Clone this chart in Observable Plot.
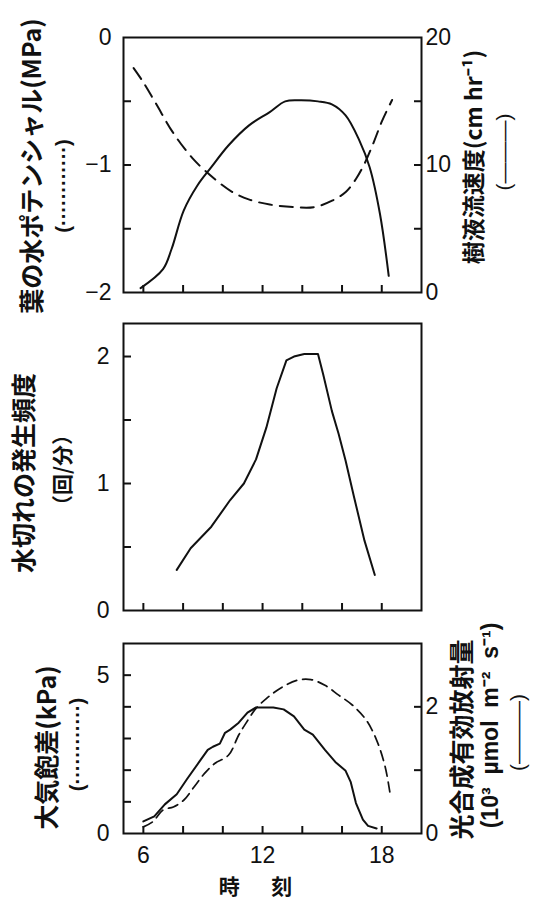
<!DOCTYPE html>
<html><head><meta charset="utf-8">
<script src="https://cdn.jsdelivr.net/npm/d3@7"></script>
<script src="https://cdn.jsdelivr.net/npm/@observablehq/plot@0.6"></script>
<style>
html,body{margin:0;padding:0;background:#fff;}
#chart{position:relative;width:540px;height:903px;overflow:hidden;background:#fff;}
#chart svg{position:absolute;left:0;overflow:visible;}
</style></head><body><div id="chart"></div>
<script>
// ---- shared x axis (time of day) ----
const hourTicks = [6, 8, 10, 12, 14, 16, 18];
const hourLabels = [6, 12, 18];

// ---- panel 1: leaf water potential (MPa, dashed) & sap flow (cm hr-1, solid) ----
const psiTicks = [-1.5, -1, -0.5];
const psiLabels = [-2, -1, 0];
const sapTicks = [5, 10, 15];
const sapLabels = [0, 10, 20];
const psiHour = [5.51, 5.95, 6.64, 7.51, 8.55, 9.59, 10.46, 11.3, 12.36, 13.58, 14.6, 15.5, 16.2, 16.7, 17.13, 17.6, 18.0, 18.52];
const leafPsi = [-0.24, -0.34, -0.52, -0.75, -0.96, -1.11, -1.21, -1.27, -1.31, -1.33, -1.33, -1.28, -1.21, -1.11, -0.99, -0.82, -0.66, -0.49];
const sapHour = [5.86, 6.99, 7.42, 8.03, 8.72, 9.42, 10.28, 11.32, 12.36, 13.14, 13.92, 14.79, 15.49, 16.18, 16.87, 17.39, 17.91, 18.35];
const sapFlow = [0.34, 1.83, 3.41, 6.42, 8.39, 9.83, 11.53, 13.11, 14.15, 14.99, 15.07, 14.99, 14.76, 13.89, 11.93, 9.83, 6.16, 1.31];

// ---- panel 2: cavitation frequency (counts/min) ----
const cavTicks = [0.5, 1, 1.5, 2];
const cavLabels = [0, 1, 2];
const cavHour = [7.68, 8.38, 9.42, 10.37, 11.06, 11.67, 12.19, 12.71, 13.2, 13.58, 14.1, 14.79, 15.05, 15.49, 15.83, 16.18, 16.61, 17.13, 17.65];
const cavFreq = [0.32, 0.49, 0.66, 0.87, 1.0, 1.19, 1.44, 1.75, 1.97, 2.0, 2.02, 2.02, 1.86, 1.57, 1.39, 1.18, 0.89, 0.55, 0.28];

// ---- panel 3: VPD (kPa, dashed) & PAR (10^3 umol m-2 s-1, solid) ----
const vpdTicks = [1, 2, 3, 4, 5];
const vpdLabels = [0, 5];
const parTicks = [1, 2];
const parLabels = [0, 2];
const vpdHour = [6.0, 6.47, 6.99, 7.51, 8.03, 8.55, 9.07, 9.59, 10.28, 10.8, 11.15, 11.67, 12.19, 12.88, 13.75, 14.44, 15.14, 15.83, 16.53, 17.22, 17.74, 18.17, 18.43];
const vpd = [0.21, 0.37, 0.74, 0.84, 1.05, 1.47, 1.89, 2.21, 2.47, 3.11, 3.47, 3.95, 4.26, 4.58, 4.84, 4.86, 4.68, 4.37, 4.05, 3.58, 2.95, 2.11, 1.21];
const parHour = [6.0, 6.55, 7.08, 7.68, 8.2, 8.81, 9.24, 9.5, 9.85, 10.11, 10.37, 10.8, 11.24, 11.67, 12.54, 13.06, 13.58, 14.1, 14.53, 15.14, 15.66, 16.18, 16.44, 16.7, 17.05, 17.31, 17.74];
const par = [0.19, 0.27, 0.46, 0.62, 0.86, 1.13, 1.32, 1.37, 1.42, 1.59, 1.64, 1.75, 1.91, 1.99, 1.99, 1.96, 1.85, 1.64, 1.56, 1.32, 1.13, 0.99, 0.81, 0.48, 0.22, 0.12, 0.08];

// ---- text ----
const t1Left = "葉の水ポテンシャル(MPa)";
const t1Right = "樹液流速度(cm hr⁻¹)";
const t2Left = "水切れの発生頻度";
const t2Unit = "（回/分）";
const t3Left = "大気飽差(kPa)";
const t3Right1 = "光合成有効放射量";
const t3Right2 = "(10³  µmol  m⁻²  s⁻¹)";
const xTitle = "時\u3000\u2002刻";
const dottedKey = "(············)";
const solidKey = "(———)";

const NUM = "'Liberation Sans', Arial, sans-serif";
const JP = "'Noto Sans CJK JP', 'Noto Sans CJK SC', sans-serif";
const INK = "#111";
const fmt = d3.format("d");

const zip = (xs, ys) => xs.map((h, i) => ({h, v: ys[i]}));
const psiData = zip(psiHour, leafPsi);
const sapData = zip(sapHour, sapFlow);
const cavData = zip(cavHour, cavFreq);
const vpdData = zip(vpdHour, vpd);
const parData = zip(parHour, par);

const sapToPsi = s => -2 + s / 10;   // right axis (0..20) onto left axis (-2..0)
const parToVpd = p => p * 2;         // right axis (0..3) onto left axis (0..6)

const W = 540, L = 123, R = 119;
const chart = document.getElementById("chart");
const baseStyle = {fontFamily: NUM, fontSize: "23px", background: "none", overflow: "visible", color: INK};

function title(text, anchor, dx, dy, size = 24, weight = "bold", family = JP) {
  return Plot.text([text], {text: d => d, frameAnchor: anchor, textAnchor: "middle", lineAnchor: "middle",
    dx, dy, rotate: -90, fontSize: size, fontWeight: weight, fontFamily: family, fill: INK});
}
function xTicksMarks(withLabels) {
  const m = [Plot.axisX({ticks: hourTicks, tickSize: -7, tickFormat: () => "", strokeWidth: 2, label: null})];
  if (withLabels) m.push(Plot.axisX({ticks: hourLabels, tickSize: 0, tickPadding: 13, label: null, fontSize: 23, tickFormat: fmt}));
  return m;
}
function mount(svg, top) { svg.style.top = top + "px"; chart.appendChild(svg); }

// Panel 1
mount(Plot.plot({
  width: W, height: 305, marginLeft: L, marginRight: R, marginTop: 37, marginBottom: 13,
  style: baseStyle,
  x: {domain: [5, 20], label: null},
  y: {domain: [-2, 0], label: null},
  marks: [
    Plot.frame({stroke: INK, strokeWidth: 2}),
    ...xTicksMarks(false),
    Plot.axisY({anchor: "left", ticks: psiTicks, tickSize: -8, tickFormat: () => "", strokeWidth: 2, label: null}),
    Plot.axisY({anchor: "left", ticks: psiLabels, tickSize: 0, tickPadding: 12, label: null, tickFormat: fmt}),
    Plot.axisY({anchor: "right", ticks: sapTicks.map(sapToPsi), tickSize: -8, tickFormat: () => "", strokeWidth: 2, label: null}),
    Plot.axisY({anchor: "right", ticks: sapLabels.map(sapToPsi), tickSize: 0, tickPadding: 4, label: null,
      tickFormat: (d, i) => String(sapLabels[i])}),
    Plot.line(psiData, {x: "h", y: "v", curve: "catmull-rom", stroke: INK, strokeWidth: 2, strokeDasharray: "13,8"}),
    Plot.line(sapData, {x: "h", y: d => sapToPsi(d.v), curve: "catmull-rom", stroke: INK, strokeWidth: 2}),
    title(t1Left, "left", -91, 1, 25),
    title(dottedKey, "left", -60, 21, 20, "bold", NUM),
    title(t1Right, "right", 53, -8, 23),
    title(solidKey, "right", 83, -13, 21, "normal", NUM)
  ]
}), 0);

// Panel 2
mount(Plot.plot({
  width: W, height: 320, marginLeft: L, marginRight: R, marginTop: 18, marginBottom: 15,
  style: baseStyle,
  x: {domain: [5, 20], label: null},
  y: {domain: [0, 2.26], label: null},
  marks: [
    Plot.frame({stroke: INK, strokeWidth: 2}),
    ...xTicksMarks(false),
    Plot.axisY({anchor: "left", ticks: cavTicks, tickSize: -8, tickFormat: () => "", strokeWidth: 2, label: null}),
    Plot.axisY({anchor: "left", ticks: cavLabels, tickSize: 0, tickPadding: 14, label: null, tickFormat: fmt}),
    Plot.line(cavData, {x: "h", y: "v", stroke: INK, strokeWidth: 2}),
    title(t2Left, "left", -99, 6, 25),
    title(t2Unit, "left", -60, 3, 21)
  ]
}), 305);

// Panel 3
mount(Plot.plot({
  width: W, height: 278, marginLeft: L, marginRight: R, marginTop: 18, marginBottom: 70,
  style: baseStyle,
  x: {domain: [5, 20], label: null},
  y: {domain: [0, 6], label: null},
  marks: [
    Plot.frame({stroke: INK, strokeWidth: 2}),
    ...xTicksMarks(true),
    Plot.axisY({anchor: "left", ticks: vpdTicks, tickSize: -8, tickFormat: () => "", strokeWidth: 2, label: null}),
    Plot.axisY({anchor: "left", ticks: vpdLabels, tickSize: 0, tickPadding: 14, label: null, tickFormat: fmt}),
    Plot.axisY({anchor: "right", ticks: parTicks.map(parToVpd), tickSize: -8, tickFormat: () => "", strokeWidth: 2, label: null}),
    Plot.axisY({anchor: "right", ticks: parLabels.map(parToVpd), tickSize: 0, tickPadding: 4, label: null,
      tickFormat: (d, i) => String(parLabels[i])}),
    Plot.line(vpdData, {x: "h", y: "v", curve: "catmull-rom", stroke: INK, strokeWidth: 1.7, strokeDasharray: "10,6"}),
    Plot.line(parData, {x: "h", y: d => parToVpd(d.v), stroke: INK, strokeWidth: 2}),
    title(t3Left, "left", -76, 9, 25),
    title(dottedKey, "left", -46, 6, 20, "bold", NUM),
    title(t3Right1, "right", 41, 1, 25),
    title(t3Right2, "right", 69, -13, 23, "bold", NUM),
    title(solidKey, "right", 97, -6, 21, "normal", NUM),
    Plot.text([xTitle], {text: d => d, frameAnchor: "bottom", dx: -17, dy: 60, fontSize: 21, fontWeight: "bold", fontFamily: JP, fill: INK})
  ]
}), 625);
</script></body></html>
